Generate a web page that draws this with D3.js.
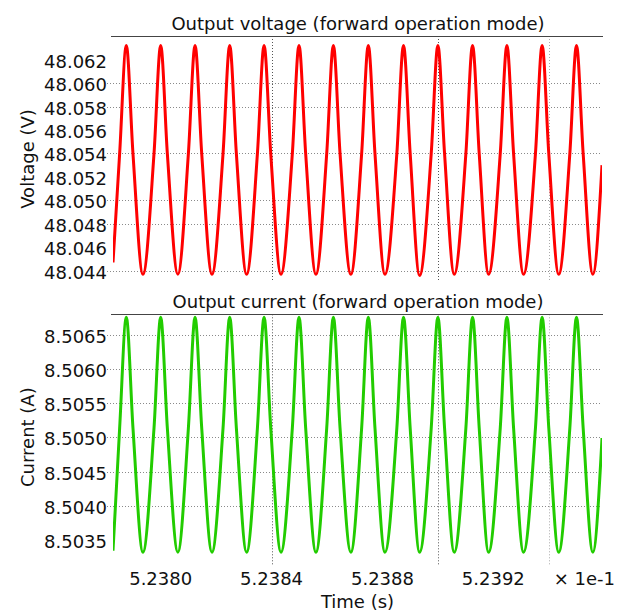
<!DOCTYPE html>
<html><head><meta charset="utf-8">
<script src="https://cdn.jsdelivr.net/npm/d3@7"></script>
<style>
html,body{margin:0;padding:0;background:#fff;}
text{font-family:"DejaVu Sans",Verdana,sans-serif;fill:#111;}
</style></head>
<body><svg id="c" width="631" height="613"></svg>
<script>
// ---- data (time in units of the axis, i.e. ×1e-1 s) ----
const timeS = [5.237828,
 5.237852,5.237876,5.237900,5.237936,
 5.237976,5.238000,5.238024,5.238062,
 5.238100,5.238124,5.238148,5.238185,
 5.238225,5.238249,5.238273,5.238310,
 5.238349,5.238373,5.238397,5.238434,
 5.238475,5.238499,5.238523,5.238560,
 5.238599,5.238623,5.238647,5.238686,
 5.238725,5.238749,5.238773,5.238809,
 5.238852,5.238876,5.238900,5.238934,
 5.238976,5.239000,5.239024,5.239059,
 5.239101,5.239125,5.239149,5.239183,
 5.239225,5.239249,5.239273,5.239309,
 5.239352,5.239376,5.239400,5.239436,
 5.239476,5.239500,5.239524,5.239559,
 5.239592];
const voltageV = [48.0447,
 48.0540,48.0632,48.0540,48.0437,
 48.0540,48.0632,48.0540,48.0437,
 48.0540,48.0632,48.0540,48.0437,
 48.0540,48.0632,48.0540,48.0437,
 48.0540,48.0632,48.0540,48.0437,
 48.0540,48.0632,48.0540,48.0437,
 48.0540,48.0632,48.0540,48.0437,
 48.0540,48.0632,48.0540,48.0437,
 48.0540,48.0632,48.0540,48.0436,
 48.0540,48.0632,48.0540,48.0437,
 48.0540,48.0632,48.0540,48.0437,
 48.0540,48.0632,48.0540,48.0437,
 48.0540,48.0632,48.0540,48.0437,
 48.0540,48.0632,48.0540,48.0437,
 48.0530];
const currentA = [8.50334,
 8.50514,8.50676,8.50514,8.50332,
 8.50514,8.50676,8.50514,8.50332,
 8.50514,8.50676,8.50514,8.50332,
 8.50514,8.50676,8.50514,8.50332,
 8.50514,8.50676,8.50514,8.50332,
 8.50514,8.50676,8.50514,8.50332,
 8.50514,8.50676,8.50514,8.50332,
 8.50514,8.50676,8.50514,8.50332,
 8.50514,8.50676,8.50514,8.50332,
 8.50514,8.50676,8.50514,8.50332,
 8.50514,8.50676,8.50514,8.50332,
 8.50514,8.50676,8.50514,8.50332,
 8.50514,8.50676,8.50514,8.50332,
 8.50514,8.50676,8.50514,8.50332,
 8.50499];
const xDomain = [5.237828, 5.239592];
const xTicks = [5.2380, 5.2384, 5.2388, 5.2392];
const xGrid = [5.2384, 5.2390, 5.2394];
const vDomain = [48.04304, 48.06401];
const vTicks = [48.044,48.046,48.048,48.050,48.052,48.054,48.056,48.058,48.060,48.062];
const vGrid = [48.044,48.048,48.050,48.054,48.058,48.060];
const iDomain = [8.503205, 8.506803];
const iTicks = [8.5035,8.5040,8.5045,8.5050,8.5055,8.5060,8.5065];
const iGrid = [8.5040,8.5045,8.5050,8.5055,8.5060,8.5065];

const svg = d3.select("#c");
const L = 113, R = 602;
const x = d3.scaleLinear().domain(xDomain).range([L, R]);

const panels = [
  {title:"Output voltage (forward operation mode)", ylab:"Voltage (V)", vals:voltageV,
   dom:vDomain, ticks:vTicks, grid:vGrid, fmt:d3.format(".3f"), top:36, bot:282, color:"#ff0000", gridBot:282, titleY:30},
  {title:"Output current (forward operation mode)", ylab:"Current (A)", vals:currentA,
   dom:iDomain, ticks:iTicks, grid:iGrid, fmt:d3.format(".4f"), top:314.3, bot:560, color:"#22cc00", gridBot:566, titleY:308}
];

panels.forEach((p, k) => {
  const y = d3.scaleLinear().domain(p.dom).range([p.bot, p.top]);
  const g = svg.append("g");
  // horizontal grid
  g.selectAll(".hg").data(p.grid).join("line")
    .attr("x1", 107).attr("x2", R)
    .attr("y1", d => Math.round(y(d)) + 0.5).attr("y2", d => Math.round(y(d)) + 0.5)
    .attr("stroke", "#8a8a8a").attr("stroke-width", 1).attr("stroke-dasharray", "1,2");
  // vertical grid
  g.selectAll(".vg").data(xGrid).join("line")
    .attr("x1", d => Math.round(x(d)) + 0.5).attr("x2", d => Math.round(x(d)) + 0.5)
    .attr("y1", p.top).attr("y2", p.gridBot)
    .attr("stroke", (d,i) => i < 2 ? "#555" : "#aaa").attr("stroke-width", 1).attr("stroke-dasharray", "1,2");
  // top border
  g.append("line").attr("x1", L - 2).attr("x2", R + 1)
    .attr("y1", Math.round(p.top) + 0.5).attr("y2", Math.round(p.top) + 0.5)
    .attr("stroke", "#444").attr("stroke-width", 1);
  // title
  g.append("text").attr("x", (L + R) / 2 + 0.5).attr("y", p.titleY)
    .attr("text-anchor", "middle").attr("font-size", 18).text(p.title);
  // y ticks
  g.selectAll(".yt").data(p.ticks).join("text")
    .attr("x", 107).attr("y", d => y(d) + 1.5)
    .attr("text-anchor", "end").attr("dominant-baseline", "central")
    .attr("font-size", 18).text(d => p.fmt(d));
  // y label
  g.append("text").attr("transform", `translate(27,${(p.top + p.bot) / 2}) rotate(-90)`)
    .attr("text-anchor", "middle").attr("dominant-baseline", "central")
    .attr("font-size", 18).text(p.ylab);
  // clip + line
  const cid = "clip" + k;
  svg.append("clipPath").attr("id", cid).append("rect")
    .attr("x", L).attr("y", p.top - 3).attr("width", R - L).attr("height", p.bot - p.top + 6);
  const line = d3.line().x((d, i) => x(timeS[i])).y(d => y(d)).curve(d3.curveMonotoneX);
  g.append("path").attr("clip-path", `url(#${cid})`).attr("d", line(p.vals))
    .attr("fill", "none").attr("stroke", p.color).attr("stroke-width", 3)
    .attr("stroke-linejoin", "round");
});

// x tick labels
svg.selectAll(".xt").data(xTicks).join("text")
  .attr("x", d => x(d)).attr("y", 585)
  .attr("text-anchor", "middle").attr("font-size", 18).text(d => d.toFixed(4));
svg.append("text").attr("x", 615).attr("y", 585).attr("text-anchor", "end")
  .attr("font-size", 18).text("× 1e-1");
svg.append("text").attr("x", 357.5).attr("y", 608).attr("text-anchor", "middle")
  .attr("font-size", 18).text("Time (s)");
</script></body></html>
